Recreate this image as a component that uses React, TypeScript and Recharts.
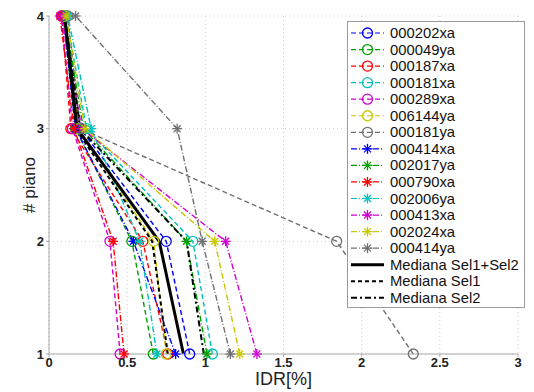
import React from 'react';
import {
  LineChart,
  Line,
  XAxis,
  YAxis,
  CartesianGrid,
  Legend
} from 'recharts';

// storey numbers (y axis)
const pianos = [1, 2, 3, 4];

// IDR [%] per storey, ordered piano 1 -> 4
const s000202xa = [0.9, 0.75, 0.2, 0.1];
const s000049ya = [0.667, 0.53, 0.17, 0.09];
const s000187xa = [0.76, 0.6, 0.14, 0.08];
const s000181xa = [1.045, 0.92, 0.24, 0.11];
const s000289xa = [0.455, 0.39, 0.15, 0.08];
const s006144ya = [0.75, 0.67, 0.19, 0.1];
const s000181ya = [2.33, 1.84, 0.2, 0.12];
const s000414xa = [0.81, 0.54, 0.17, 0.09];
const s002017ya = [1.01, 0.88, 0.22, 0.1];
const s000790xa = [0.48, 0.41, 0.16, 0.07];
const s002006ya = [0.69, 0.58, 0.27, 0.12];
const s000413xa = [1.33, 1.13, 0.21, 0.08];
const s002024xa = [1.22, 1.06, 0.23, 0.11];
const s000414ya = [1.16, 0.98, 0.82, 0.17];

const medianaAll = [0.86, 0.705, 0.18, 0.1];
const medianaSel1 = [0.76, 0.66, 0.17, 0.1];
const medianaSel2 = [0.99, 0.88, 0.2, 0.1];

const xTicks = [0, 0.5, 1, 1.5, 2, 2.5, 3];

type Series = {
  name: string;
  values: number[];
  color: string;
  marker: 'circle' | 'star' | 'none';
  dash: string;
  width: number;
};

const series: Series[] = [
  { name: '000202xa', values: s000202xa, color: '#0000ff', marker: 'circle', dash: '5 3', width: 1.4 },
  { name: '000049ya', values: s000049ya, color: '#00a000', marker: 'circle', dash: '5 3', width: 1.4 },
  { name: '000187xa', values: s000187xa, color: '#ff0000', marker: 'circle', dash: '5 3', width: 1.4 },
  { name: '000181xa', values: s000181xa, color: '#00c0c0', marker: 'circle', dash: '5 3', width: 1.4 },
  { name: '000289xa', values: s000289xa, color: '#d000d0', marker: 'circle', dash: '5 3', width: 1.4 },
  { name: '006144ya', values: s006144ya, color: '#c8c800', marker: 'circle', dash: '5 3', width: 1.4 },
  { name: '000181ya', values: s000181ya, color: '#707070', marker: 'circle', dash: '5 3', width: 1.4 },
  { name: '000414xa', values: s000414xa, color: '#0000ff', marker: 'star', dash: '6 2 1 2', width: 1.4 },
  { name: '002017ya', values: s002017ya, color: '#00a000', marker: 'star', dash: '6 2 1 2', width: 1.4 },
  { name: '000790xa', values: s000790xa, color: '#ff0000', marker: 'star', dash: '6 2 1 2', width: 1.4 },
  { name: '002006ya', values: s002006ya, color: '#00c0c0', marker: 'star', dash: '6 2 1 2', width: 1.4 },
  { name: '000413xa', values: s000413xa, color: '#d000d0', marker: 'star', dash: '6 2 1 2', width: 1.4 },
  { name: '002024xa', values: s002024xa, color: '#c8c800', marker: 'star', dash: '6 2 1 2', width: 1.4 },
  { name: '000414ya', values: s000414ya, color: '#707070', marker: 'star', dash: '6 2 1 2', width: 1.4 },
  { name: 'Mediana Sel1+Sel2', values: medianaAll, color: '#000000', marker: 'none', dash: '', width: 3 },
  { name: 'Mediana Sel1', values: medianaSel1, color: '#000000', marker: 'none', dash: '4 3', width: 2 },
  { name: 'Mediana Sel2', values: medianaSel2, color: '#000000', marker: 'none', dash: '6 3 2 3', width: 2 }
];

const chartData = pianos.map((p, i) => {
  const row: Record<string, number> = { piano: p };
  series.forEach((s, k) => {
    row['s' + k] = s.values[i];
  });
  return row;
});

const Marker = ({ x, y, kind, color }: { x: number; y: number; kind: string; color: string }) => {
  if (kind === 'circle') {
    return <circle cx={x} cy={y} r={5} fill="none" stroke={color} strokeWidth={1.3} />;
  }
  if (kind === 'star') {
    const r = 5;
    const d = r * 0.7;
    return (
      <g stroke={color} strokeWidth={1.3}>
        <line x1={x - r} y1={y} x2={x + r} y2={y} />
        <line x1={x} y1={y - r} x2={x} y2={y + r} />
        <line x1={x - d} y1={y - d} x2={x + d} y2={y + d} />
        <line x1={x - d} y1={y + d} x2={x + d} y2={y - d} />
      </g>
    );
  }
  return null;
};

const makeDot = (s: Series) => (props: any) => {
  if (s.marker === 'none' || props.cx == null) return <g key={props.index} />;
  return (
    <g key={props.index}>
      <Marker x={props.cx} y={props.cy} kind={s.marker} color={s.color} />
    </g>
  );
};

const LegendBox = () => {
  const rowH = 16.55;
  return (
    <svg width={179} height={288} style={{ display: 'block' }}>
      <rect x={0.5} y={0.5} width={177} height={286} fill="#fff" stroke="#999" />
      {series.map((s, i) => {
        const y = 12 + i * rowH;
        return (
          <g key={s.name}>
            <line
              x1={4}
              y1={y}
              x2={37}
              y2={y}
              stroke={s.color}
              strokeWidth={s.marker === 'none' ? s.width : 1.2}
              strokeDasharray={s.dash || undefined}
            />
            <Marker x={20.5} y={y} kind={s.marker} color={s.color} />
            <text
              x={43}
              y={y + 5}
              fontSize={14.8}
              fontFamily="Liberation Sans, Arial, sans-serif"
              fill="#111"
            >
              {s.name}
            </text>
          </g>
        );
      })}
    </svg>
  );
};

const tickStyle = { fontSize: 13, fontWeight: 'bold' as const, fill: '#222', fontFamily: 'Liberation Sans, Arial, sans-serif' };

export default function App() {
  return (
    <div style={{ position: 'absolute', left: 0, top: 0, width: 534, height: 392, background: '#fff' }}>
      <LineChart
        width={534}
        height={392}
        layout="vertical"
        data={chartData}
        margin={{ top: 16, right: 16, bottom: 2, left: 19 }}
      >
        <CartesianGrid stroke="#cfcfcf" strokeDasharray="1 3" />
        <XAxis
          type="number"
          domain={[0, 3]}
          ticks={xTicks}
          height={36}
          tick={tickStyle}
          tickSize={3}
          tickMargin={1}
          stroke="#aaa"
          label={{ value: 'IDR[%]', position: 'insideBottom', offset: 5, style: { fontSize: 18, fill: '#222', fontFamily: 'Liberation Sans, Arial, sans-serif' } }}
        />
        <YAxis
          type="number"
          dataKey="piano"
          domain={[1, 4]}
          ticks={pianos}
          reversed
          width={30}
          tick={tickStyle}
          tickSize={3}
          stroke="#aaa"
          label={{ value: '# piano', angle: -90, position: 'insideLeft', offset: 10, style: { fontSize: 17, fill: '#222', fontFamily: 'Liberation Sans, Arial, sans-serif', textAnchor: 'middle' } }}
        />
        {series.map((s, k) => (
          <Line
            key={s.name}
            dataKey={'s' + k}
            name={s.name}
            stroke={s.color}
            strokeWidth={s.width}
            strokeDasharray={s.dash || undefined}
            dot={makeDot(s)}
            activeDot={false}
            isAnimationActive={false}
          />
        ))}
        <Legend
          layout="vertical"
          align="center"
          verticalAlign="middle"
          wrapperStyle={{ position: 'absolute', left: 347, top: 21, width: 179, height: 288 }}
          content={() => <LegendBox />}
        />
      </LineChart>
    </div>
  );
}
